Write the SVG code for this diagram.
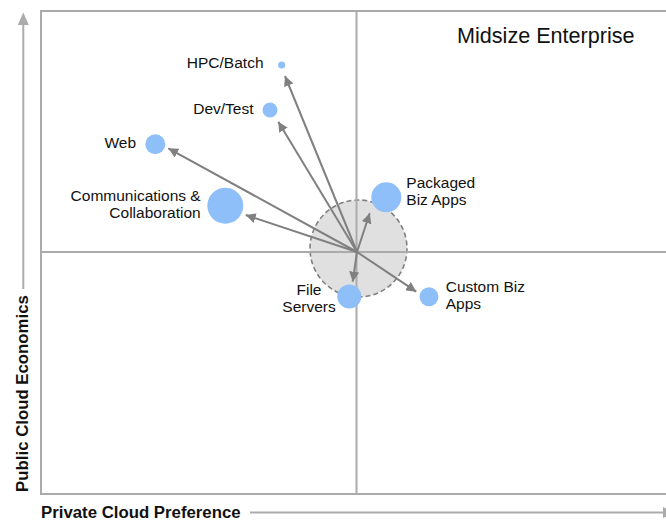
<svg xmlns="http://www.w3.org/2000/svg" width="666" height="520" viewBox="0 0 666 520">
<defs>
<style>
.grid{stroke:#ababab;stroke-width:2;fill:none}
.conn{stroke:#808080;stroke-width:2;fill:none;marker-end:url(#ah)}
.bub{fill:#8fbff9}
.lbl{font-family:"Liberation Sans",Arial,sans-serif;font-size:15.5px;fill:#111}
.axl{font-family:"Liberation Sans",Arial,sans-serif;font-size:16.8px;font-weight:bold;fill:#111}
</style>
<marker id="ah" viewBox="0 0 10 10" refX="10" refY="5" markerWidth="5" markerHeight="5" markerUnits="strokeWidth" orient="auto">
<path d="M0,0 L10,5 L0,10 z" fill="#808080"/>
</marker>
</defs>
<rect width="666" height="520" fill="#ffffff"/>
<g id="cluster">
<circle cx="358.5" cy="248.5" r="48.5" fill="#e0e0e0" stroke="#808080" stroke-width="1.6" stroke-dasharray="5,3"/>
</g>
<g id="frame">
<polyline class="grid" points="667,11 41,11 41,494 667,494"/>
<line class="grid" x1="356.5" y1="11" x2="356.5" y2="494"/>
<line class="grid" x1="41" y1="252" x2="667" y2="252"/>
</g>
<g id="y-axis">
<line x1="23.3" y1="24" x2="23.3" y2="289" stroke="#ababab" stroke-width="2"/>
<polygon points="23.3,12.5 17.8,25 28.8,25" fill="#ababab"/>
<text class="axl" transform="translate(27.5,393.5) rotate(-90)" text-anchor="middle">Public Cloud Economics</text>
</g>
<g id="x-axis">
<line x1="250" y1="512.5" x2="665" y2="512.5" stroke="#ababab" stroke-width="2"/>
<polygon points="663,507 675,512.5 663,518" fill="#ababab"/>
<text class="axl" x="41" y="517.5">Private Cloud Preference</text>
</g>
<g id="title">
<text x="457" y="42.5" font-family="Liberation Sans, Arial, sans-serif" font-size="21.6" fill="#111">Midsize Enterprise</text>
</g>
<g id="connectors">
<line class="conn" x1="357" y1="252" x2="285" y2="76"/>
<line class="conn" x1="357" y1="252" x2="278.3" y2="121.7"/>
<line class="conn" x1="357" y1="252" x2="168.3" y2="148.3"/>
<line class="conn" x1="357" y1="252" x2="245.7" y2="215"/>
<line class="conn" x1="357" y1="252" x2="369.7" y2="213.3"/>
<line class="conn" x1="357" y1="252" x2="352.7" y2="281.7"/>
<line class="conn" x1="357" y1="252" x2="416.3" y2="291.7"/>
</g>
<g id="hpc-batch">
<circle class="bub" cx="281.7" cy="65" r="3.6"/>
<text class="lbl" x="263.5" y="68" text-anchor="end">HPC/Batch</text>
</g>
<g id="dev-test">
<circle class="bub" cx="270" cy="110" r="7.5"/>
<text class="lbl" x="253.5" y="113.5" text-anchor="end">Dev/Test</text>
</g>
<g id="web">
<circle class="bub" cx="155.3" cy="144.3" r="10"/>
<text class="lbl" x="136" y="147.5" text-anchor="end">Web</text>
</g>
<g id="communications">
<circle class="bub" cx="225.3" cy="205.7" r="18"/>
<text class="lbl" x="200.7" y="200.5" text-anchor="end">Communications &amp;</text>
<text class="lbl" x="200.7" y="217.5" text-anchor="end">Collaboration</text>
</g>
<g id="packaged-biz-apps">
<circle class="bub" cx="386.3" cy="197.3" r="15"/>
<text class="lbl" x="406.3" y="188">Packaged</text>
<text class="lbl" x="406.3" y="205">Biz Apps</text>
</g>
<g id="file-servers">
<circle class="bub" cx="349.3" cy="296.5" r="12"/>
<text class="lbl" x="309" y="294.5" text-anchor="middle">File</text>
<text class="lbl" x="309" y="311.5" text-anchor="middle">Servers</text>
</g>
<g id="custom-biz-apps">
<circle class="bub" cx="429" cy="296.7" r="9.5"/>
<text class="lbl" x="445.7" y="292">Custom Biz</text>
<text class="lbl" x="445.7" y="308.5">Apps</text>
</g>
</svg>
